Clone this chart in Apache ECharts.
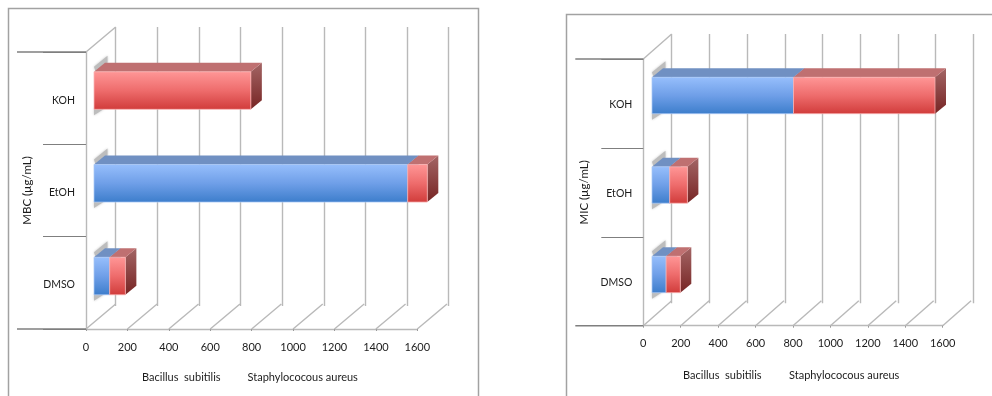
<!DOCTYPE html>
<html>
<head>
<meta charset="utf-8">
<style>html,body{margin:0;padding:0;background:#fff}#chart{width:992px;height:396px}</style>
<script src="https://cdn.jsdelivr.net/npm/echarts@6/dist/echarts.min.js"></script>
</head>
<body>
<div id="chart"></div>
<script>
// Solvent extracts, bottom to top
const categories = ['DMSO', 'EtOH', 'KOH'];
const valueTicks = [0, 200, 400, 600, 800, 1000, 1200, 1400, 1600];

// Concentrations in µg/mL
const mbcBacillus = [80, 1600, 0];
const mbcStaph = [80, 100, 800];
const micBacillus = [80, 100, 800];
const micStaph = [80, 100, 800];

const bacillusName = 'Bacillus  subitilis';
const staphName = 'Staphylococous aureus';

const FONT = 'Lato, "Open Sans", sans-serif';
const TEXT = '#1c1c1c';
const WALL = '#b9b9b9';
const TICK = '#7f7f7f';

// Layout of one oblique 3D panel: floor-front plane, back wall, bar plane
const panels = [
  {
    title: 'MBC (µg/mL)', a: mbcBacillus, b: mbcStaph,
    frame: { x: 8.5, y: 8.5, w: 470, h: 420 },
    front: { left: 86, top: 52, width: 331.3, height: 277 },
    back: { left: 115.7, top: 27, width: 333, height: 279 },
    bars: { left: 94, top: 44.2, width: 313.7, height: 278.2 },
    barH: 37.5, nameGap: 53, labelPad: 4, tickMargin: 13, legendY: 377, legendA: 142, legendB: 247.5,
    longTick: 69
  },
  {
    title: 'MIC (µg/mL)', a: micBacillus, b: micStaph,
    frame: { x: 566.5, y: 14.5, w: 470, h: 420 },
    front: { left: 643.3, top: 59, width: 299.4, height: 266.7 },
    back: { left: 671.7, top: 34, width: 301.6, height: 269.3 },
    bars: { left: 652, top: 50.75, width: 283, height: 268.5 },
    barH: 36.4, nameGap: 53, labelPad: 2, tickMargin: 12, legendY: 375, legendA: 683, legendB: 789,
    longTick: 68
  }
];
const DEPTH = [11, -9];

const blueFace = {
  front: [[0, '#97bffc'], [0.5, '#6f9fe8'], [1, '#3c7dcb']],
  top: '#7090c2', edge: 'rgba(170,200,245,0.75)',
  side: ['#5f7fb0', '#2e4f80']
};
const redFace = {
  front: [[0, '#ff9797'], [0.5, '#ee6c6c'], [1, '#d03b3a']],
  top: '#bf7071', edge: 'rgba(250,180,180,0.75)',
  side: ['#a36565', '#772524']
};

function linear(stops) {
  return {
    type: 'linear', x: 0, y: 0, x2: 0, y2: 1,
    colorStops: stops.map(s => ({ offset: s[0], color: s[1] }))
  };
}

function barSeries(gridIdx, barH, values, starts, face, name) {
  return {
    type: 'custom', name,
    coordinateSystem: 'cartesian2d',
    xAxisIndex: gridIdx, yAxisIndex: gridIdx,
    clip: false, z: 5, silent: true,
    data: values.map((v, i) => [starts[i], starts[i] + v, i]),
    renderItem(params, api) {
      const start = api.value(0), end = api.value(1), cat = api.value(2);
      if (end <= start) return { type: 'group', children: [] };
      const p0 = api.coord([start, cat]);
      const p1 = api.coord([end, cat]);
      const y0 = p0[1] - barH / 2, y1 = p0[1] + barH / 2;
      const x0 = p0[0], x1 = p1[0];
      const dx = DEPTH[0], dy = DEPTH[1];
      return {
        type: 'group',
        children: [
          {
            type: 'polygon',
            shape: { points: [[x1, y0], [x1 + dx, y0 + dy], [x1 + dx, y1 + dy], [x1, y1]] },
            style: { fill: linear([[0, face.side[0]], [1, face.side[1]]]) }
          },
          {
            type: 'polygon',
            shape: { points: [[x0, y0], [x0 + dx, y0 + dy], [x1 + dx, y0 + dy], [x1, y0]] },
            style: { fill: face.top }
          },
          {
            type: 'rect',
            shape: { x: x0, y: y0, width: x1 - x0, height: y1 - y0 },
            style: { fill: linear(face.front), stroke: face.edge, lineWidth: 1 }
          }
        ]
      };
    }
  };
}

// Soft shadow that the bar ends cast on the side wall
function shadowSeries(gridIdx, barH) {
  return {
    type: 'custom', coordinateSystem: 'cartesian2d',
    xAxisIndex: gridIdx, yAxisIndex: gridIdx,
    clip: false, z: 3, silent: true,
    data: categories.map((c, i) => [0, i]),
    renderItem(params, api) {
      const p = api.coord([api.value(0), api.value(1)]);
      const x = p[0], y0 = p[1] - barH / 2, y1 = p[1] + barH / 2;
      const style = { fill: '#bdbdbd', shadowBlur: 2.5, shadowColor: '#c4c4c4' };
      return {
        type: 'group',
        children: [
          { type: 'polygon', shape: { points: [[x, y0 - 5], [x + 13.5, y0 - 16], [x + 13.5, y0 - 9], [x + 2, y0 + 1]] }, style },
          { type: 'polygon', shape: { points: [[x, y1 - 1], [x + 11, y1 - 1], [x, y1 + 6]] }, style }
        ]
      };
    }
  };
}

// Floor lines running from each front tick to the back wall, wall edges and the outer category ticks
function floorSeries(gridIdx, panel) {
  const bx = panel.back.left - panel.front.left;
  const by = panel.back.top - panel.front.top;
  return {
    type: 'custom', coordinateSystem: 'cartesian2d',
    xAxisIndex: gridIdx, yAxisIndex: gridIdx,
    clip: false, z: 2, silent: true,
    data: valueTicks.map(v => [v]),
    renderItem(params, api) {
      const p = api.coord([api.value(0), 0]);
      const floorY = params.coordSys.y + params.coordSys.height;
      const topY = params.coordSys.y;
      const line = (x1, y1, x2, y2, stroke) => ({
        type: 'line', shape: { x1, y1, x2, y2 },
        style: { stroke, lineWidth: 1.4 }
      });
      const children = [line(p[0], floorY, p[0] + bx, floorY + by, WALL)];
      if (params.dataIndex === 0) {
        children.push(line(p[0], topY, p[0] + bx, topY + by, WALL));
        children.push(line(p[0] - panel.longTick, topY, p[0], topY, TICK));
        children.push(line(p[0] - panel.longTick, floorY, p[0], floorY, TICK));
      }
      return { type: 'group', children };
    }
  };
}

const grid = [], xAxis = [], yAxis = [], series = [], graphic = [];

panels.forEach(panel => {
  const frontIdx = grid.length;
  const backIdx = frontIdx + 1;
  const barIdx = frontIdx + 2;
  grid.push(panel.front, panel.back, panel.bars);

  // Visible scale along the floor edge, with category labels
  xAxis.push({
    gridIndex: frontIdx, type: 'value', min: 0, max: 1600, interval: 200,
    axisLine: { show: true, lineStyle: { color: WALL, width: 1.4 } },
    axisTick: { show: true, length: 2, lineStyle: { color: '#9a9a9a' } },
    axisLabel: {
      color: TEXT, fontFamily: FONT, fontSize: 11, margin: panel.tickMargin,
      showMinLabel: true, showMaxLabel: true,
      formatter: v => String(v)
    },
    splitLine: { show: false }
  });
  yAxis.push({
    gridIndex: frontIdx, type: 'category', data: categories,
    name: panel.title, nameLocation: 'middle', nameRotate: 90, nameGap: panel.nameGap,
    nameTextStyle: { color: TEXT, fontFamily: FONT, fontSize: 11.5 },
    axisLine: { show: true, onZero: false, lineStyle: { color: WALL, width: 1.4 } },
    axisTick: { show: true, length: panel.longTick - 26, lineStyle: { color: TICK } },
    axisLabel: {
      margin: 11,
      formatter: v => '{c|' + v + '}',
      rich: { c: { color: TEXT, fontFamily: FONT, fontSize: 10.5, padding: [panel.labelPad, 0, 0, 0] } }
    },
    splitLine: { show: false }
  });

  // Back wall gridlines
  xAxis.push({
    gridIndex: backIdx, type: 'value', min: 0, max: 1600, interval: 200,
    axisLine: { show: false }, axisTick: { show: false }, axisLabel: { show: false },
    splitLine: { show: true, lineStyle: { color: WALL, width: 1.4 } }
  });
  yAxis.push({
    gridIndex: backIdx, type: 'category', data: categories,
    axisLine: { show: false }, axisTick: { show: false }, axisLabel: { show: false },
    splitLine: { show: false }
  });

  // Bar plane, offset into the depth of the floor
  xAxis.push({ gridIndex: barIdx, type: 'value', min: 0, max: 1600, show: false, splitLine: { show: false } });
  yAxis.push({ gridIndex: barIdx, type: 'category', data: categories, show: false });

  series.push(floorSeries(frontIdx, panel));
  series.push(shadowSeries(barIdx, panel.barH));
  series.push(barSeries(barIdx, panel.barH, panel.a, panel.a.map(() => 0), blueFace, bacillusName));
  series.push(barSeries(barIdx, panel.barH, panel.b, panel.a, redFace, staphName));

  graphic.push({
    type: 'rect', silent: true, z: 0,
    shape: { x: panel.frame.x, y: panel.frame.y, width: panel.frame.w, height: panel.frame.h },
    style: { fill: 'none', stroke: '#a2a2a2', lineWidth: 1.5 }
  });
  [[bacillusName, panel.legendA], [staphName, panel.legendB]].forEach(([text, x]) => {
    graphic.push({
      type: 'text', silent: true, x, y: panel.legendY,
      style: { text, fill: TEXT, font: '11px ' + FONT, textVerticalAlign: 'middle', verticalAlign: 'middle' }
    });
  });
});

const chart = echarts.init(document.getElementById('chart'), null, { renderer: 'canvas' });
chart.setOption({
  animation: false,
  backgroundColor: '#ffffff',
  tooltip: { show: false },
  grid, xAxis, yAxis, series, graphic
});
</script>
</body>
</html>
